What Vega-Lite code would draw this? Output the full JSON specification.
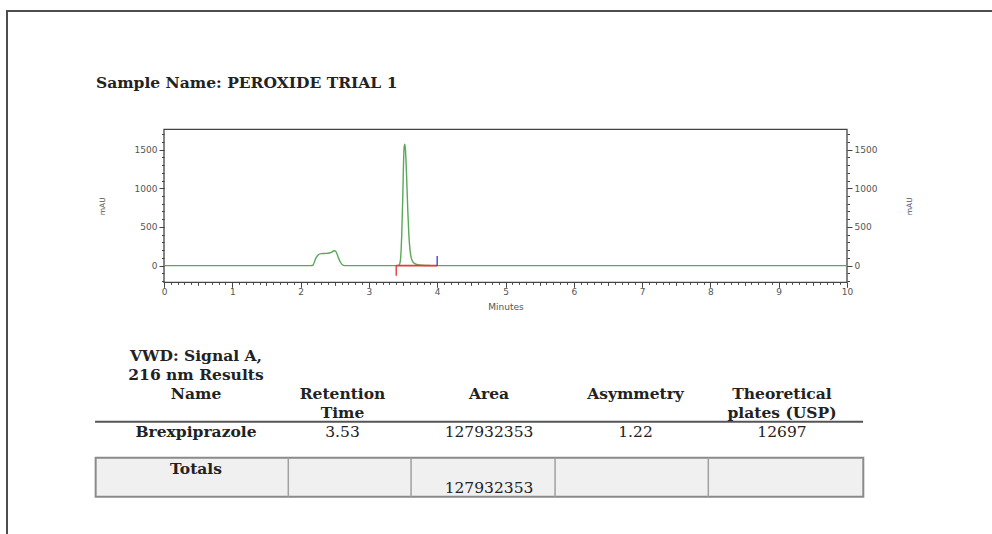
{
  "$schema": "https://vega.github.io/schema/vega-lite/v6.json",
  "width": 990,
  "height": 526,
  "autosize": {"type": "none"},
  "padding": {"left": 7, "top": 11, "right": -5, "bottom": -3},
  "background": "white",
  "config": {
    "view": {"stroke": "#4d4d4d", "strokeWidth": 2},
    "axis": {"labelFont": "DejaVu Sans", "titleFont": "DejaVu Sans", "labelColor": "#555", "titleColor": "#555", "tickColor": "#444", "grid": false, "domain": false, "labelFlush": false, "labelOverlap": false}
  },
  "datasets": {
    "trace": [
      {"t": 0, "mAU": 0}, {"t": 2.15, "mAU": 0}, {"t": 2.18, "mAU": 5}, {"t": 2.22, "mAU": 90},
      {"t": 2.26, "mAU": 140}, {"t": 2.3, "mAU": 155}, {"t": 2.35, "mAU": 158}, {"t": 2.4, "mAU": 160},
      {"t": 2.45, "mAU": 172}, {"t": 2.49, "mAU": 192}, {"t": 2.52, "mAU": 178}, {"t": 2.55, "mAU": 110},
      {"t": 2.58, "mAU": 50}, {"t": 2.61, "mAU": 12}, {"t": 2.65, "mAU": 0}, {"t": 3.4, "mAU": 0},
      {"t": 3.44, "mAU": 8}, {"t": 3.46, "mAU": 60}, {"t": 3.48, "mAU": 380}, {"t": 3.495, "mAU": 850},
      {"t": 3.505, "mAU": 1250}, {"t": 3.515, "mAU": 1520}, {"t": 3.525, "mAU": 1570}, {"t": 3.535, "mAU": 1500},
      {"t": 3.545, "mAU": 1320}, {"t": 3.555, "mAU": 1080}, {"t": 3.57, "mAU": 700}, {"t": 3.585, "mAU": 400},
      {"t": 3.6, "mAU": 220}, {"t": 3.62, "mAU": 100}, {"t": 3.65, "mAU": 40}, {"t": 3.7, "mAU": 15},
      {"t": 3.78, "mAU": 5}, {"t": 3.9, "mAU": 1}, {"t": 4.0, "mAU": 0}, {"t": 10, "mAU": 0}
    ],
    "baseline": [{"t": 3.4, "t2": 4.0, "v": 0}],
    "startMark": [{"t": 3.4, "v": 5, "v2": -130}],
    "endMark": [{"t": 4.0, "v": -5, "v2": 125}],
    "heading": [{"label": "Sample Name: PEROXIDE TRIAL 1"}],
    "bold": [
      {"row": 0, "col": 0, "label": "VWD: Signal A,"},
      {"row": 1, "col": 0, "label": "216 nm Results"},
      {"row": 2, "col": 0, "label": "Name"},
      {"row": 2, "col": 1, "label": "Retention"},
      {"row": 3, "col": 1, "label": "Time"},
      {"row": 2, "col": 2, "label": "Area"},
      {"row": 2, "col": 3, "label": "Asymmetry"},
      {"row": 2, "col": 4, "label": "Theoretical"},
      {"row": 3, "col": 4, "label": "plates (USP)"},
      {"row": 4, "col": 0, "label": "Brexpiprazole"},
      {"row": 6, "col": 0, "label": "Totals"}
    ],
    "regular": [
      {"row": 4, "col": 1, "label": "3.53"},
      {"row": 4, "col": 2, "label": "127932353"},
      {"row": 4, "col": 3, "label": "1.22"},
      {"row": 4, "col": 4, "label": "12697"},
      {"row": 7, "col": 2, "label": "127932353"}
    ],
    "one": [{"k": 1}]
  },
  "layer": [
    {
      "layer": [
        {
          "data": {"name": "one"},
          "mark": {"type": "rect", "fill": "transparent", "stroke": "#444", "strokeWidth": 1.3},
          "encoding": {
            "x": {"datum": 0, "type": "quantitative", "scale": {"domain": [0, 10], "range": [157, 840], "nice": false, "zero": false},
                  "axis": {"orient": "bottom", "offset": -254.7, "values": [0, 1, 2, 3, 4, 5, 6, 7, 8, 9, 10], "format": "d", "tickSize": 5, "labelFontSize": 9, "labelPadding": 0, "title": "Minutes", "titleFontSize": 9, "titleFontWeight": "normal", "titlePadding": 6}},
            "x2": {"datum": 10},
            "y": {"datum": -215, "type": "quantitative", "scale": {"domain": [-215, 1762], "range": [271.3, 118.3], "nice": false, "zero": false},
                  "axis": {"orient": "left", "offset": -157, "values": [0, 500, 1000, 1500], "format": "d", "tickSize": 5, "labelFontSize": 9, "labelPadding": 2, "title": "mAU", "titleFontSize": 7.5, "titleFontWeight": "normal", "titleBaseline": "middle", "titlePadding": 32}},
            "y2": {"datum": 1762}
          }
        },
        {
          "data": {"name": "trace"},
          "mark": {"type": "line", "color": "#5aa85a", "strokeWidth": 1.4, "interpolate": "monotone"},
          "encoding": {
            "x": {"field": "t", "type": "quantitative", "scale": {"domain": [0, 10], "range": [157, 840], "nice": false, "zero": false},
                  "axis": {"orient": "bottom", "offset": -254.7, "tickCount": 100, "tickSize": 2, "labels": false, "title": null}},
            "y": {"field": "mAU", "type": "quantitative", "scale": {"domain": [-215, 1762], "range": [271.3, 118.3], "nice": false, "zero": false},
                  "axis": {"orient": "left", "offset": -157, "values": [-200, -100, 0, 100, 200, 300, 400, 500, 600, 700, 800, 900, 1000, 1100, 1200, 1300, 1400, 1500, 1600, 1700], "tickSize": 2.5, "labels": false, "title": null}}
          }
        },
        {
          "data": {"name": "baseline"},
          "mark": {"type": "rule", "color": "#e83a3a", "strokeWidth": 1.6},
          "encoding": {
            "x": {"field": "t", "type": "quantitative", "scale": {"domain": [0, 10], "range": [157, 840], "nice": false, "zero": false},
                  "axis": {"orient": "bottom", "offset": -254.7, "values": [0.5, 1.5, 2.5, 3.5, 4.5, 5.5, 6.5, 7.5, 8.5, 9.5], "tickSize": 3, "labels": false, "title": null}},
            "x2": {"field": "t2"},
            "y": {"field": "v", "type": "quantitative", "scale": {"domain": [-215, 1762], "range": [271.3, 118.3], "nice": false, "zero": false},
                  "axis": {"orient": "right", "offset": -150, "values": [0, 500, 1000, 1500], "format": "d", "tickSize": 5, "labelFontSize": 9, "labelPadding": 2, "title": "mAU", "titleAngle": 270, "titleFontSize": 7.5, "titleFontWeight": "normal", "titleBaseline": "middle", "titlePadding": 33}}
          }
        },
        {
          "data": {"name": "startMark"},
          "mark": {"type": "rule", "color": "#e83a3a", "strokeWidth": 1.4},
          "encoding": {
            "x": {"field": "t", "type": "quantitative", "scale": {"domain": [0, 10], "range": [157, 840], "nice": false, "zero": false}, "axis": null},
            "y": {"field": "v", "type": "quantitative", "scale": {"domain": [-215, 1762], "range": [271.3, 118.3], "nice": false, "zero": false},
                  "axis": {"orient": "right", "offset": -150, "values": [-200, -100, 0, 100, 200, 300, 400, 500, 600, 700, 800, 900, 1000, 1100, 1200, 1300, 1400, 1500, 1600, 1700], "tickSize": 2.5, "labels": false, "title": null}},
            "y2": {"field": "v2"}
          }
        },
        {
          "data": {"name": "endMark"},
          "mark": {"type": "rule", "color": "#4545e0", "strokeWidth": 1.4},
          "encoding": {
            "x": {"field": "t", "type": "quantitative", "scale": {"domain": [0, 10], "range": [157, 840], "nice": false, "zero": false}, "axis": null},
            "y": {"field": "v", "type": "quantitative", "scale": {"domain": [-215, 1762], "range": [271.3, 118.3], "nice": false, "zero": false}, "axis": null},
            "y2": {"field": "v2"}
          }
        }
      ],
      "resolve": {"axis": {"x": "independent", "y": "independent"}}
    },
    {
      "layer": [
        {
          "data": {"name": "one"},
          "mark": {"type": "rect", "fill": "#f0f0f0", "stroke": "#8a8a8a", "strokeWidth": 2},
          "encoding": {
            "x": {"datum": -0.685, "type": "quantitative", "scale": {"domain": [0, 4], "range": [189, 775], "nice": false, "zero": false}, "axis": null},
            "x2": {"datum": 4.555},
            "y": {"datum": 5.381, "type": "quantitative", "scale": {"domain": [0, 7], "range": [345, 477.3], "nice": false, "zero": false}, "axis": null},
            "y2": {"datum": 7.444}
          }
        },
        {
          "data": {"name": "one"},
          "mark": {"type": "rule", "color": "#a0a0a0", "strokeWidth": 1.5},
          "encoding": {
            "x": {"datum": 0.63, "type": "quantitative", "scale": {"domain": [0, 4], "range": [189, 775], "nice": false, "zero": false}, "axis": null},
            "y": {"datum": 5.381, "type": "quantitative", "scale": {"domain": [0, 7], "range": [345, 477.3], "nice": false, "zero": false}, "axis": null},
            "y2": {"datum": 7.444}
          }
        },
        {
          "data": {"name": "one"},
          "mark": {"type": "rule", "color": "#a0a0a0", "strokeWidth": 1.5},
          "encoding": {
            "x": {"datum": 1.468, "type": "quantitative", "scale": {"domain": [0, 4], "range": [189, 775], "nice": false, "zero": false}, "axis": null},
            "y": {"datum": 5.381, "type": "quantitative", "scale": {"domain": [0, 7], "range": [345, 477.3], "nice": false, "zero": false}, "axis": null},
            "y2": {"datum": 7.444}
          }
        },
        {
          "data": {"name": "one"},
          "mark": {"type": "rule", "color": "#a0a0a0", "strokeWidth": 1.5},
          "encoding": {
            "x": {"datum": 2.451, "type": "quantitative", "scale": {"domain": [0, 4], "range": [189, 775], "nice": false, "zero": false}, "axis": null},
            "y": {"datum": 5.381, "type": "quantitative", "scale": {"domain": [0, 7], "range": [345, 477.3], "nice": false, "zero": false}, "axis": null},
            "y2": {"datum": 7.444}
          }
        },
        {
          "data": {"name": "one"},
          "mark": {"type": "rule", "color": "#a0a0a0", "strokeWidth": 1.5},
          "encoding": {
            "x": {"datum": 3.497, "type": "quantitative", "scale": {"domain": [0, 4], "range": [189, 775], "nice": false, "zero": false}, "axis": null},
            "y": {"datum": 5.381, "type": "quantitative", "scale": {"domain": [0, 7], "range": [345, 477.3], "nice": false, "zero": false}, "axis": null},
            "y2": {"datum": 7.444}
          }
        },
        {
          "data": {"name": "one"},
          "mark": {"type": "rule", "color": "#555", "strokeWidth": 2},
          "encoding": {
            "x": {"datum": -0.689, "type": "quantitative", "scale": {"domain": [0, 4], "range": [189, 775], "nice": false, "zero": false}, "axis": null},
            "x2": {"datum": 4.553},
            "y": {"datum": 3.476, "type": "quantitative", "scale": {"domain": [0, 7], "range": [345, 477.3], "nice": false, "zero": false}, "axis": null}
          }
        },
        {
          "data": {"name": "bold"},
          "mark": {"type": "text", "font": "DejaVu Serif", "fontWeight": "bold", "fontSize": 15.5, "color": "#222", "align": "center", "baseline": "middle"},
          "encoding": {
            "x": {"field": "col", "type": "quantitative", "scale": {"domain": [0, 4], "range": [189, 775], "nice": false, "zero": false}, "axis": null},
            "y": {"field": "row", "type": "quantitative", "scale": {"domain": [0, 7], "range": [345, 477.3], "nice": false, "zero": false}, "axis": null},
            "text": {"field": "label"}
          }
        },
        {
          "data": {"name": "regular"},
          "mark": {"type": "text", "font": "DejaVu Serif", "fontWeight": "normal", "fontSize": 15.5, "color": "#222", "align": "center", "baseline": "middle"},
          "encoding": {
            "x": {"field": "col", "type": "quantitative", "scale": {"domain": [0, 4], "range": [189, 775], "nice": false, "zero": false}, "axis": null},
            "y": {"field": "row", "type": "quantitative", "scale": {"domain": [0, 7], "range": [345, 477.3], "nice": false, "zero": false}, "axis": null},
            "text": {"field": "label"}
          }
        },
        {
          "data": {"name": "heading"},
          "mark": {"type": "text", "font": "DejaVu Serif", "fontWeight": "bold", "fontSize": 15.5, "color": "#222", "align": "left", "baseline": "middle"},
          "encoding": {
            "x": {"datum": -0.683, "type": "quantitative", "scale": {"domain": [0, 4], "range": [189, 775], "nice": false, "zero": false}, "axis": null},
            "y": {"datum": -14.418, "type": "quantitative", "scale": {"domain": [0, 7], "range": [345, 477.3], "nice": false, "zero": false}, "axis": null},
            "text": {"field": "label"}
          }
        }
      ]
    }
  ],
  "resolve": {"scale": {"x": "independent", "y": "independent"}}
}
